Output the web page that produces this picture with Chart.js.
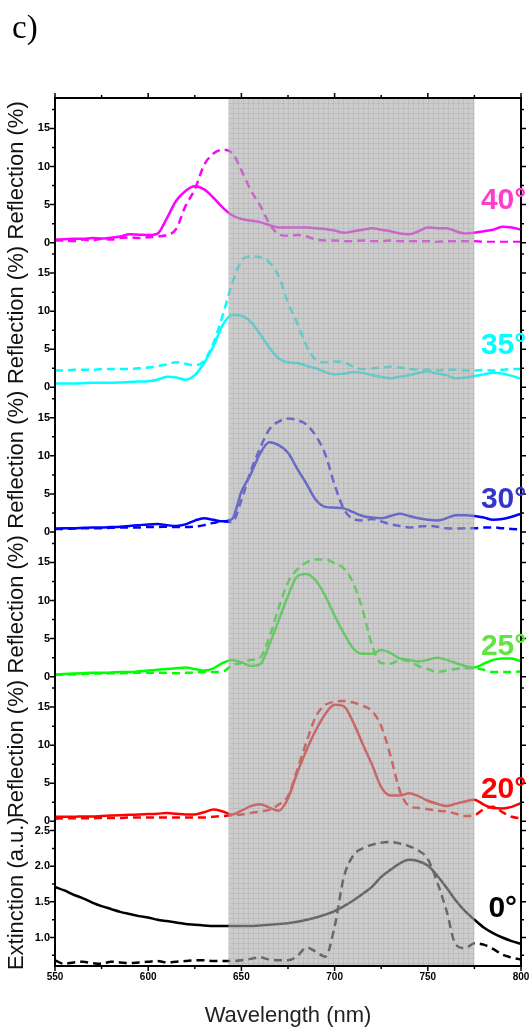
<!DOCTYPE html>
<html>
<head>
<meta charset="utf-8">
<script src="https://cdn.jsdelivr.net/npm/chart.js@4.4.0/dist/chart.umd.min.js"></script>
<style>
	html, body { margin: 0; padding: 0; background: #fff; }
	canvas { display: block; }
</style>
</head>
<body>
<canvas id="myChart" width="529" height="1032"></canvas>
<script>
const wavelengths = [
	550, 555, 560, 565, 570, 575, 580, 585, 590, 595,
	600, 605, 610, 615, 620, 625, 630, 635, 640, 645,
	650, 655, 660, 665, 670, 675, 680, 685, 690, 695,
	700, 705, 710, 715, 720, 725, 730, 735, 740, 745,
	750, 755, 760, 765, 770, 775, 780, 785, 790, 795,
	800,
]

const refl40Solid = [
	0.4, 0.45, 0.5, 0.5, 0.6, 0.55, 0.65, 0.8, 1.1, 1.05,
	1.0, 1.2, 3.2, 5.5, 6.8, 7.4, 7.0, 5.9, 4.6, 3.6,
	3.1, 2.9, 2.7, 2.3, 2.0, 2.0, 2.0, 2.0, 1.9, 1.8,
	1.6, 1.3, 1.5, 1.7, 1.9, 1.7, 1.5, 1.2, 1.1, 1.5,
	2.0, 1.9, 1.9, 1.5, 1.2, 1.3, 1.5, 1.7, 2.1, 2.0,
	1.7,
]
const refl40Dash = [
	0.3, 0.3, 0.2, 0.4, 0.3, 0.5, 0.4, 0.6, 0.7, 0.6,
	0.7, 0.8, 1.0, 1.8, 4.8, 7.0, 10.2, 11.7, 12.2, 11.8,
	9.5, 6.9, 4.9, 2.5, 1.1, 0.9, 1.0, 0.8, 0.4, 0.3,
	0.3, 0.2, 0.2, 0.3, 0.2, 0.2, 0.3, 0.2, 0.2, 0.2,
	0.2, 0.1, 0.2, 0.2, 0.2, 0.2, 0.1, 0.1, 0.1, 0.1,
	0.1,
]
const refl35Solid = [
	0.5, 0.5, 0.5, 0.55, 0.6, 0.6, 0.6, 0.65, 0.7, 0.75,
	0.8, 1.0, 1.4, 1.3, 1.0, 1.6, 3.2, 5.4, 8.2, 9.5,
	9.4, 8.6, 7.0, 5.2, 3.8, 3.3, 3.2, 2.8, 2.5, 2.0,
	1.7, 1.8, 2.0, 1.9, 1.6, 1.4, 1.2, 1.4, 1.6, 1.9,
	2.1, 1.8, 1.6, 1.2, 1.3, 1.5, 1.7, 1.9, 1.8, 1.5,
	1.1,
]
const refl35Dash = [
	2.2, 2.2, 2.3, 2.3, 2.3, 2.4, 2.4, 2.4, 2.4, 2.5,
	2.6, 2.8, 3.0, 3.3, 3.1, 2.9, 3.5, 5.8, 9.5, 13.6,
	16.6, 17.2, 17.1, 16.4, 14.6, 11.1, 8.4, 5.4, 3.6, 3.3,
	3.4, 3.3, 2.7, 2.4, 2.5, 2.6, 2.7, 2.6, 2.4, 2.3,
	2.3, 2.2, 2.3, 2.3, 2.2, 2.2, 2.3, 2.2, 2.3, 2.4,
	2.4,
]
const refl30Solid = [
	0.45, 0.5, 0.5, 0.55, 0.6, 0.6, 0.65, 0.7, 0.8, 0.9,
	1.0, 1.05, 0.9, 0.8, 1.0, 1.5, 1.8, 1.6, 1.4, 1.7,
	5.3, 7.6, 10.3, 11.8, 11.4, 10.4, 8.3, 6.3, 4.2, 3.3,
	3.2, 3.1, 2.6, 2.1, 1.9, 1.8, 2.1, 2.4, 2.1, 1.8,
	1.6, 1.5, 1.8, 2.2, 2.2, 2.1, 1.9, 1.6, 1.7, 2.0,
	2.4,
]
const refl30Dash = [
	0.4, 0.4, 0.45, 0.5, 0.5, 0.5, 0.55, 0.6, 0.6, 0.6,
	0.65, 0.65, 0.7, 0.65, 0.65, 0.7, 0.9, 1.2, 1.4, 1.3,
	4.2, 8.0, 11.0, 13.5, 14.5, 14.9, 14.7, 14.1, 12.6, 10.2,
	6.2, 3.0, 1.7, 1.5, 1.7, 1.4, 1.0, 0.8, 0.6, 0.7,
	0.8, 0.7, 0.5, 0.45, 0.5, 0.5, 0.6, 0.6, 0.5, 0.4,
	0.35,
]
const refl25Solid = [
	0.3, 0.35, 0.4, 0.45, 0.5, 0.5, 0.55, 0.6, 0.6, 0.7,
	0.8, 0.9, 1.0, 1.1, 1.2, 1.0, 0.8, 1.1, 1.8, 2.2,
	1.9, 1.4, 1.6, 4.2, 7.4, 10.6, 13.2, 13.5, 12.6, 10.6,
	8.0, 5.7, 3.7, 3.0, 3.0, 3.5, 3.1, 2.4, 2.2, 2.0,
	2.2, 2.5, 2.2, 1.8, 1.4, 1.2, 1.7, 2.2, 2.4, 2.4,
	2.0,
]
const refl25Dash = [
	0.2, 0.3, 0.3, 0.35, 0.4, 0.4, 0.45, 0.45, 0.5, 0.5,
	0.5, 0.5, 0.5, 0.45, 0.5, 0.55, 0.6, 0.6, 0.65, 1.5,
	1.8, 2.2, 2.5, 5.2, 9.0, 12.4, 14.1, 15.0, 15.4, 15.4,
	14.9, 14.2, 12.3, 8.8, 4.2, 1.8, 1.7, 2.2, 2.0, 1.4,
	1.0, 0.65, 0.8, 1.0, 1.1, 1.1, 0.9, 0.6, 0.6, 0.6,
	0.7,
]
const refl20Solid = [
	0.6, 0.6, 0.6, 0.65, 0.65, 0.7, 0.75, 0.8, 0.85, 0.9,
	0.95, 1.0, 1.1, 1.0, 0.9, 0.9, 1.2, 1.55, 1.3, 0.9,
	1.4, 2.0, 2.25, 1.8, 1.4, 3.0, 6.4, 9.4, 12.0, 14.1,
	15.3, 15.1, 13.0, 10.2, 7.5, 4.5, 3.4, 3.4, 3.7, 3.3,
	2.7, 2.3, 2.0, 2.3, 2.6, 2.85, 2.2, 1.75, 1.7, 1.9,
	2.4,
]
const refl20Dash = [
	0.35, 0.4, 0.4, 0.4, 0.4, 0.45, 0.45, 0.45, 0.5, 0.5,
	0.5, 0.5, 0.5, 0.5, 0.5, 0.5, 0.5, 0.6, 0.7, 0.8,
	0.9, 1.1, 1.3, 1.5, 2.2, 3.3, 6.8, 10.5, 13.8, 15.3,
	15.7, 15.8, 15.6, 15.2, 14.5, 12.5, 8.6, 4.0, 2.0, 1.75,
	1.6, 1.4, 1.3, 1.0, 0.7, 0.8, 1.6, 1.9, 1.2, 0.6,
	0.4,
]
const ext0Solid = [
	1.71, 1.66, 1.60, 1.55, 1.49, 1.44, 1.40, 1.36, 1.33, 1.30,
	1.28, 1.25, 1.23, 1.21, 1.19, 1.18, 1.17, 1.16, 1.16, 1.16,
	1.16, 1.16, 1.17, 1.18, 1.19, 1.20, 1.22, 1.25, 1.28, 1.32,
	1.37, 1.44, 1.52, 1.61, 1.71, 1.85, 1.95, 2.04, 2.09, 2.07,
	2.01, 1.87, 1.70, 1.52, 1.37, 1.25, 1.14, 1.06, 1.00, 0.95,
	0.91,
]
const ext0Dash = [
	0.68, 0.63, 0.65, 0.66, 0.64, 0.63, 0.66, 0.65, 0.64, 0.65,
	0.66, 0.67, 0.65, 0.66, 0.67, 0.68, 0.68, 0.67, 0.67, 0.67,
	0.68, 0.70, 0.72, 0.69, 0.68, 0.68, 0.74, 0.86, 0.80, 0.73,
	1.15, 1.85, 2.15, 2.25, 2.30, 2.33, 2.34, 2.32, 2.28, 2.22,
	2.10, 1.78, 1.38, 0.90, 0.85, 0.92, 0.90, 0.84, 0.76, 0.72,
	0.69,
]

// panels listed top to bottom
const angleLabels = ['40°', '35°', '30°', '25°', '20°', '0°']
const axisIds = ['y40', 'y35', 'y30', 'y25', 'y20', 'yExt']
const axisTitles = ['Reflection (%)', 'Reflection (%)', 'Reflection (%)', 'Reflection (%)', 'Reflection (%)', 'Extinction (a.u.)']
const solidSeries = [refl40Solid, refl35Solid, refl30Solid, refl25Solid, refl20Solid, ext0Solid]
const dashSeries = [refl40Dash, refl35Dash, refl30Dash, refl25Dash, refl20Dash, ext0Dash]
const lineColors = ['#ff00ff', '#00ffff', '#0000ff', '#00ff00', '#ff0000', '#000000']
const labelColors = ['#ff3ccc', '#00ffff', '#3535cc', '#5fe63c', '#ff0000', '#000000']
const labelLevels = [5.5, 5.4, 4.2, 3.9, 4.1, 1.41]
const labelWavelengths = [778.5, 778.5, 778.5, 778.5, 778.5, 782.5]
const shadeRange = [643, 775]
const reflRange = [0, 19]
const extRange = [0.6, 2.63]

const fontFamily = '"Liberation Sans", Arial, sans-serif'

const toPoints = values => wavelengths.map((x, i) => ({ x, y: values[i] }))

const datasets = []
axisIds.forEach((id, i) => {
	datasets.push({
		label: angleLabels[i] + ' dashed',
		data: toPoints(dashSeries[i]),
		yAxisID: id,
		borderColor: lineColors[i],
		borderWidth: 2.5,
		borderDash: [8, 5],
		pointRadius: 0,
		cubicInterpolationMode: 'monotone',
	})
	datasets.push({
		label: angleLabels[i] + ' solid',
		data: toPoints(solidSeries[i]),
		yAxisID: id,
		borderColor: lineColors[i],
		borderWidth: 2.5,
		pointRadius: 0,
		cubicInterpolationMode: 'monotone',
	})
})

const isMultiple = (v, step) => Math.abs(v / step - Math.round(v / step)) < 1e-6

function panelAxis(i) {
	const ext = axisIds[i] === 'yExt'
	return {
		type: 'linear',
		position: 'left',
		stack: 'panels',
		stackWeight: 1,
		min: ext ? extRange[0] : reflRange[0],
		max: ext ? extRange[1] : reflRange[1],
		title: {
			display: true,
			text: axisTitles[i],
			color: '#111',
			font: { family: fontFamily, size: 22 },
			padding: { top: 4, bottom: 0 },
		},
		ticks: {
			stepSize: ext ? 0.25 : 2.5,
			includeBounds: false,
			autoSkip: false,
			color: '#000',
			padding: 5,
			font: { family: fontFamily, size: 11, weight: 'bold' },
			callback: v => (ext ? (isMultiple(v, 0.5) ? v.toFixed(1) : '') : isMultiple(v, 5) ? v : ''),
		},
		grid: { drawOnChartArea: false, drawTicks: false },
		border: { display: false },
		afterFit: s => {
			s.width = 55
			s.paddingTop = 0
			s.paddingBottom = 0
		},
	}
}

const scales = {
	x: {
		type: 'linear',
		position: 'bottom',
		min: 550,
		max: 800,
		ticks: {
			stepSize: 25,
			autoSkip: false,
			maxRotation: 0,
			color: '#000',
			padding: 5,
			font: { family: fontFamily, size: 10, weight: 'bold' },
			callback: v => (isMultiple(v, 50) ? v : ''),
		},
		grid: { drawOnChartArea: false, drawTicks: false },
		border: { display: false },
		title: {
			display: true,
			text: 'Wavelength (nm)',
			color: '#222',
			font: { family: fontFamily, size: 22 },
			padding: { top: 0, bottom: 3 },
		},
		afterFit: s => {
			s.height = 66
			s.paddingLeft = 0
			s.paddingRight = 0
		},
	},
}
// left-hand stacked boxes are laid out in reverse order, so add them bottom first
for (let i = axisIds.length - 1; i >= 0; i--) {
	scales[axisIds[i]] = panelAxis(i)
}

const isMajor = (id, v) => (id === 'x' ? isMultiple(v, 50) : id === 'yExt' ? isMultiple(v, 0.5) : isMultiple(v, 5))

const framePlugin = {
	id: 'frame',
	afterDatasetsDraw(chart) {
		const { ctx, chartArea: a } = chart
		const x = chart.scales.x
		const x0 = x.getPixelForValue(shadeRange[0])
		const x1 = x.getPixelForValue(shadeRange[1])
		ctx.save()
		ctx.fillStyle = 'rgba(170,170,170,0.6)'
		ctx.fillRect(x0, a.top, x1 - x0, a.bottom - a.top)
		ctx.strokeStyle = 'rgba(140,140,140,0.2)'
		ctx.lineWidth = 1
		ctx.beginPath()
		for (let gx = x0 + 5; gx < x1 - 1; gx += 5) {
			ctx.moveTo(Math.round(gx) + 0.5, a.top)
			ctx.lineTo(Math.round(gx) + 0.5, a.bottom)
		}
		for (let gy = a.top + 5; gy < a.bottom - 1; gy += 5) {
			ctx.moveTo(x0, Math.round(gy) + 0.5)
			ctx.lineTo(x1, Math.round(gy) + 0.5)
		}
		ctx.stroke()
		ctx.restore()
	},
	afterDraw(chart) {
		const { ctx, chartArea: a } = chart
		const x = chart.scales.x
		ctx.save()
		ctx.strokeStyle = '#000'
		ctx.lineWidth = 1.5
		ctx.beginPath()
		x.ticks.forEach(t => {
			const px = x.getPixelForValue(t.value)
			const len = isMajor('x', t.value) ? 5 : 3
			ctx.moveTo(px, a.bottom)
			ctx.lineTo(px, a.bottom + len)
			ctx.moveTo(px, a.top)
			ctx.lineTo(px, a.top - len)
		})
		axisIds.forEach(id => {
			const s = chart.scales[id]
			s.ticks.forEach(t => {
				const py = s.getPixelForValue(t.value)
				const len = isMajor(id, t.value) ? 5 : 3
				ctx.moveTo(a.left, py)
				ctx.lineTo(a.left - len, py)
				ctx.moveTo(a.right, py)
				ctx.lineTo(a.right + len, py)
			})
		})
		ctx.stroke()
		ctx.lineWidth = 2
		ctx.strokeRect(a.left, a.top, a.right - a.left, a.bottom - a.top)

		ctx.font = 'bold 30px ' + fontFamily
		ctx.textAlign = 'left'
		ctx.textBaseline = 'middle'
		axisIds.forEach((id, i) => {
			ctx.fillStyle = labelColors[i]
			ctx.fillText(angleLabels[i], x.getPixelForValue(labelWavelengths[i]), chart.scales[id].getPixelForValue(labelLevels[i]))
		})

		ctx.fillStyle = '#000'
		ctx.font = '33px "Liberation Serif", "Times New Roman", serif'
		ctx.textBaseline = 'alphabetic'
		ctx.fillText('c)', 12, 38)
		ctx.restore()
	},
}

const ctx = document.getElementById('myChart').getContext('2d')
const myChart = new Chart(ctx, {
	type: 'line',
	data: { datasets },
	options: {
		responsive: false,
		animation: false,
		layout: { padding: { top: 98, right: 8, bottom: 0, left: 0 } },
		plugins: {
			legend: { display: false },
			tooltip: { enabled: false },
		},
		scales,
	},
	plugins: [framePlugin],
})
</script>
</body>
</html>
